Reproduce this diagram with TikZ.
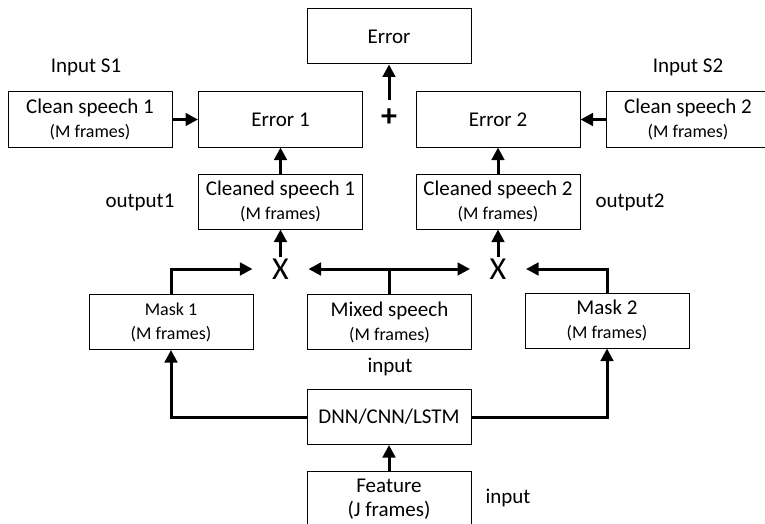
\documentclass[tikz,border=0pt]{standalone}
\usepackage{fontspec}
\setmainfont{Carlito}
\usetikzlibrary{arrows.meta}
\newcommand\smallfr{\fontsize{18}{24}\selectfont}
\begin{document}
\begin{tikzpicture}[x=1pt,y=-1pt,
  box/.style={draw, line width=1pt, minimum width=164pt, minimum height=55pt, inner sep=0pt, align=center, font=\fontsize{21}{24}\selectfont},
  lbl/.style={font=\fontsize{21}{24}\selectfont, inner sep=0pt},
  op/.style={font=\fontsize{32}{32}\selectfont, inner xsep=19.5pt, inner ysep=2pt},
  arr/.style={line width=3pt, -{Triangle[length=12.5pt,width=12.5pt]}},
]
\useasboundingbox (0,0) rectangle (765,524);
% boxes
\node[box] (err) at (389,36.5) {Error};
\node[box] (err1) at (280.5,119.5) {Error 1};
\node[box] (err2) at (498,119.5) {Error 2};
\node[box] (cs1) at (90,119.5) {Clean speech 1\\\smallfr (M frames)};
\node[box] (cs2) at (688,119.5) {Clean speech 2\\\smallfr (M frames)};
\node[box] (cl1) at (280.5,201.5) {Cleaned speech 1\\\smallfr (M frames)};
\node[box] (cl2) at (498,201.5) {Cleaned speech 2\\\smallfr (M frames)};
\node[box] (m1) at (171,322) {{\fontsize{18}{22}\selectfont Mask 1}\\\fontsize{18}{22}\selectfont (M frames)};
\node[box] (mix) at (389.5,322) {Mixed speech\\\smallfr (M frames)};
\node[box] (m2) at (607,320.5) {Mask 2\\\smallfr (M frames)};
\node[box] (dnn) at (389,417) {DNN/CNN/LSTM};
\node[box] (feat) at (389,499) {Feature\\(J frames)};
% labels
\node[lbl] (ins1) at (86,67) {Input S1};
\node[lbl] (ins2) at (688,67) {Input S2};
\node[lbl] (out1) at (140,202) {output1};
\node[lbl] (out2) at (630,202) {output2};
\node[lbl] (inmix) at (390,367) {input};
\node[lbl] (infeat) at (508,498) {input};
% operators
\node[op] (x1) at (280.5,269) {X};
\node[op] (x2) at (498,269) {X};
\node[font=\fontsize{32}{32}\selectfont\bfseries, inner xsep=0pt, inner ysep=9pt] (plus) at (389,118) {+};
% connectors
\draw[arr] (plus.north) -- (err.south);
\draw[arr] (cs1.east) -- (err1.west);
\draw[arr] (cs2.west) -- (err2.east);
\draw[arr] (cl1.north) -- (err1.south);
\draw[arr] (cl2.north) -- (err2.south);
\draw[arr] (x1.north) -- (cl1.south);
\draw[arr] (x2.north) -- (cl2.south);
\draw[arr] (m1.north) |- (x1.west);
\draw[arr] (mix.north) |- (x1.east);
\draw[arr] (mix.north) |- (x2.west);
\draw[arr] (m2.north) |- (x2.east);
\draw[arr] (dnn.west) -| (m1.south);
\draw[arr] (dnn.east) -| (m2.south);
\draw[arr] (feat.north) -- (dnn.south);
\end{tikzpicture}
\end{document}
